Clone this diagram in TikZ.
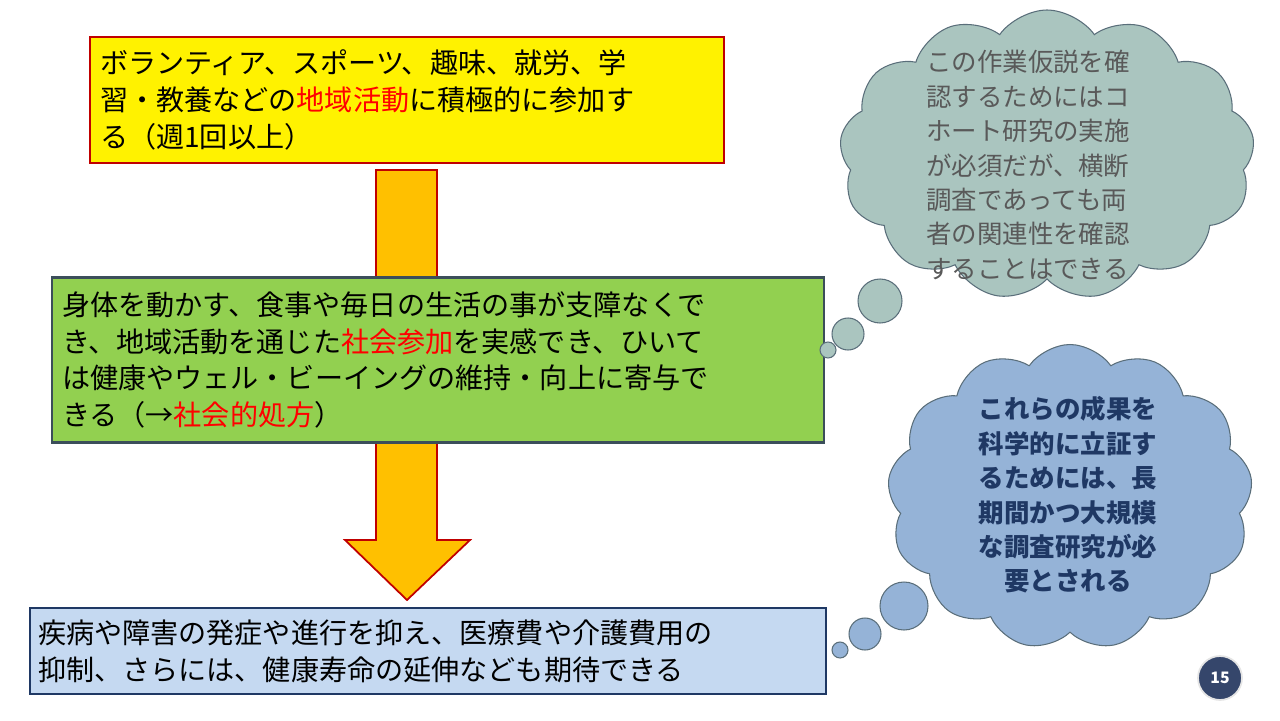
\documentclass[tikz,border=0pt]{standalone}
\usepackage{fontspec}
\setmainfont{Noto Sans CJK JP}
\usetikzlibrary{shapes.symbols}
\definecolor{boxred}{HTML}{C00000}
\definecolor{arrowfill}{HTML}{FFC000}
\definecolor{greenfill}{HTML}{92D050}
\definecolor{greenline}{HTML}{3B4E5A}
\definecolor{bluefill}{HTML}{C5D9F1}
\definecolor{navy}{HTML}{1F3864}
\definecolor{cloudA}{HTML}{AAC5BF}
\definecolor{cloudB}{HTML}{95B3D7}
\definecolor{cloudline}{HTML}{5A6E7A}
\definecolor{hl}{HTML}{FF0000}
\tikzset{
 box/.style={draw, line width=1.5pt, align=left, inner sep=0pt, font=\fontsize{16}{21}\selectfont},
 cloudbox/.style={cloud, cloud puffs=13, cloud puff arc=110, aspect=1.3, draw=cloudline, line width=0.6pt, inner sep=0pt},
 bub/.style={circle, draw=cloudline, line width=0.6pt, inner sep=0pt},
}
\begin{document}
\begin{tikzpicture}[x=0.02cm,y=-0.02cm]
\useasboundingbox (0,0) rectangle (1280,720);
% arrow
\draw[boxred, line width=1pt, fill=arrowfill] (376,170) -- (437,170) -- (437,540) -- (470,540) -- (407,600) -- (345,540) -- (376,540) -- cycle;
\node[box, draw=boxred, fill=yellow, minimum width=634*0.02cm, minimum height=126*0.02cm, text width=614*0.02cm] (b1) at (407,100)
 {ボランティア、スポーツ、趣味、就労、学\\習・教養などの\textcolor{hl}{地域活動}に積極的に参加す\\る（週1回以上）};
\node[box, draw=greenline, fill=greenfill, minimum width=772*0.02cm, minimum height=165*0.02cm, text width=752*0.02cm] (b2) at (438,360)
 {身体を動かす、食事や毎日の生活の事が支障なくで\\き、地域活動を通じた\textcolor{hl}{社会参加}を実感でき、ひいて\\は健康やウェル・ビーイングの維持・向上に寄与で\\きる（→\textcolor{hl}{社会的処方}）};
\node[box, draw=navy, fill=bluefill, minimum width=796*0.02cm, minimum height=86*0.02cm, text width=780*0.02cm] (b3) at (428,651)
 {疾病や障害の発症や進行を抑え、医療費や介護費用の\\抑制、さらには、健康寿命の延伸なども期待できる};
% cloud 1
\node[cloudbox, fill=cloudA, minimum width=415*0.02cm, minimum height=290*0.02cm] (c1) at (1047,155) {};
\node[bub, fill=cloudA, minimum size=44*0.02cm] (c1a) at (880,301) {};
\node[bub, fill=cloudA, minimum size=32*0.02cm] (c1b) at (848,334) {};
\node[bub, fill=cloudA, minimum size=16*0.02cm] (c1c) at (828,350) {};
\node[align=left, text=black!65, font=\fontsize{14.5}{19.6}\selectfont] (t1) at (1028,165)
 {この作業仮説を確\\認するためにはコ\\ホート研究の実施\\が必須だが、横断\\調査であっても両\\者の関連性を確認\\することはできる};
% cloud 2
\node[cloudbox, fill=cloudB, minimum width=365*0.02cm, minimum height=305*0.02cm] (c2) at (1070,497) {};
\node[bub, fill=cloudB, minimum size=48*0.02cm] (c2a) at (904,606) {};
\node[bub, fill=cloudB, minimum size=32*0.02cm] (c2b) at (865,634) {};
\node[bub, fill=cloudB, minimum size=16*0.02cm] (c2c) at (840,650) {};
\node[align=center, text=navy, font=\bfseries\fontsize{14.5}{19.6}\selectfont] (t2) at (1068,495)
 {これらの成果を\\科学的に立証す\\るためには、長\\期間かつ大規模\\な調査研究が必\\要とされる};
% page number
\node[circle, fill=greenline!90!blue, draw=white!80!gray, line width=1pt, minimum size=44*0.02cm, text=white, font=\bfseries\fontsize{9}{10}\selectfont] (pg) at (1220,678) {15};
\end{tikzpicture}
\end{document}
